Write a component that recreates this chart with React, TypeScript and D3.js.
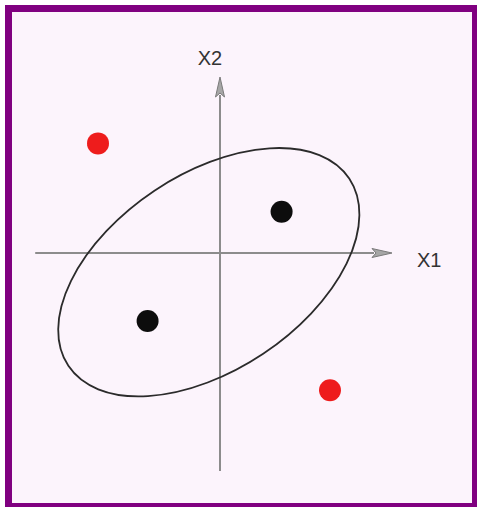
import React from "react";
import * as d3 from "d3";

// Data (units of the X1 / X2 plane)
const classInside = [
  { x1: 1.54, x2: 1.03 },
  { x1: -1.81, x2: -1.7 },
];
const classOutside = [
  { x1: -3.05, x2: 2.74 },
  { x1: 2.75, x2: -3.43 },
];
const ellipseCenter = [-0.28, -0.48];
const ellipseAxes = [4.22, 2.45];
const ellipseAngle = 33.7; // degrees, counter-clockwise
const axisLabels = ["X1", "X2"];
const x1Extent = [-4.62, 4.3];
const x2Extent = [-5.45, 4.4];

const W = 477;
const H = 507;

export default function App() {
  const unit = 40;
  const ox = 220;
  const oy = 253;
  const x = d3.scaleLinear().domain([0, 1]).range([ox, ox + unit]);
  const y = d3.scaleLinear().domain([0, 1]).range([oy, oy - unit]);

  const axisColor = "#8c8c8c";
  const ecx = x(ellipseCenter[0]);
  const ecy = y(ellipseCenter[1]);
  const rx = x(ellipseAxes[0]) - x(0);
  const ry = x(ellipseAxes[1]) - x(0);

  const xEndA = x(x1Extent[0]);
  const xEndB = x(x1Extent[1]);
  const yTop = y(x2Extent[1]);
  const yBot = y(x2Extent[0]);

  const arrowLen = 20;
  const arrowHalf = 4.5;

  return (
    <div style={{ position: "fixed", left: 0, top: 0, width: W, height: H, background: "#fff" }}>
      <svg width={W} height={H} style={{ display: "block" }}>
        <defs>
          <filter id="soft" x="-50%" y="-50%" width="200%" height="200%">
            <feGaussianBlur stdDeviation="0.7" />
          </filter>
        </defs>
        <rect x={8.5} y={8.5} width={467} height={498} fill="#fcf4fc" stroke="#800080" strokeWidth={7} />

        {/* axes */}
        <line x1={xEndA} y1={oy} x2={xEndB - arrowLen + 2} y2={oy} stroke={axisColor} strokeWidth={2} />
        <path
          d={`M${xEndB},${oy} L${xEndB - arrowLen},${oy - arrowHalf} L${xEndB - arrowLen + 4},${oy} L${xEndB - arrowLen},${oy + arrowHalf} Z`}
          fill="#a6a6a6"
          stroke="#7a7a7a"
          strokeWidth={1}
        />
        <line x1={ox} y1={yBot} x2={ox} y2={yTop + arrowLen - 2} stroke={axisColor} strokeWidth={2} />
        <path
          d={`M${ox},${yTop} L${ox - arrowHalf},${yTop + arrowLen} L${ox},${yTop + arrowLen - 4} L${ox + arrowHalf},${yTop + arrowLen} Z`}
          fill="#a6a6a6"
          stroke="#7a7a7a"
          strokeWidth={1}
        />
        <text x={xEndB + 25} y={oy + 14} fontFamily="Liberation Sans, Arial, sans-serif" fontSize={20} fill="#333">
          {axisLabels[0]}
        </text>
        <text x={ox - 10} y={yTop - 12} textAnchor="middle" fontFamily="Liberation Sans, Arial, sans-serif" fontSize={20} fill="#333">
          {axisLabels[1]}
        </text>

        {/* ellipse */}
        <ellipse
          cx={ecx}
          cy={ecy}
          rx={rx}
          ry={ry}
          transform={`rotate(${-ellipseAngle} ${ecx} ${ecy})`}
          fill="none"
          stroke="#2b2b2b"
          strokeWidth={1.8}
        />

        {/* points */}
        <g filter="url(#soft)">
          {classInside.map((p, i) => (
            <circle key={"b" + i} cx={x(p.x1)} cy={y(p.x2)} r={11} fill="#111" />
          ))}
          {classOutside.map((p, i) => (
            <circle key={"r" + i} cx={x(p.x1)} cy={y(p.x2)} r={11} fill="#ee1c1c" />
          ))}
        </g>
      </svg>
    </div>
  );
}
